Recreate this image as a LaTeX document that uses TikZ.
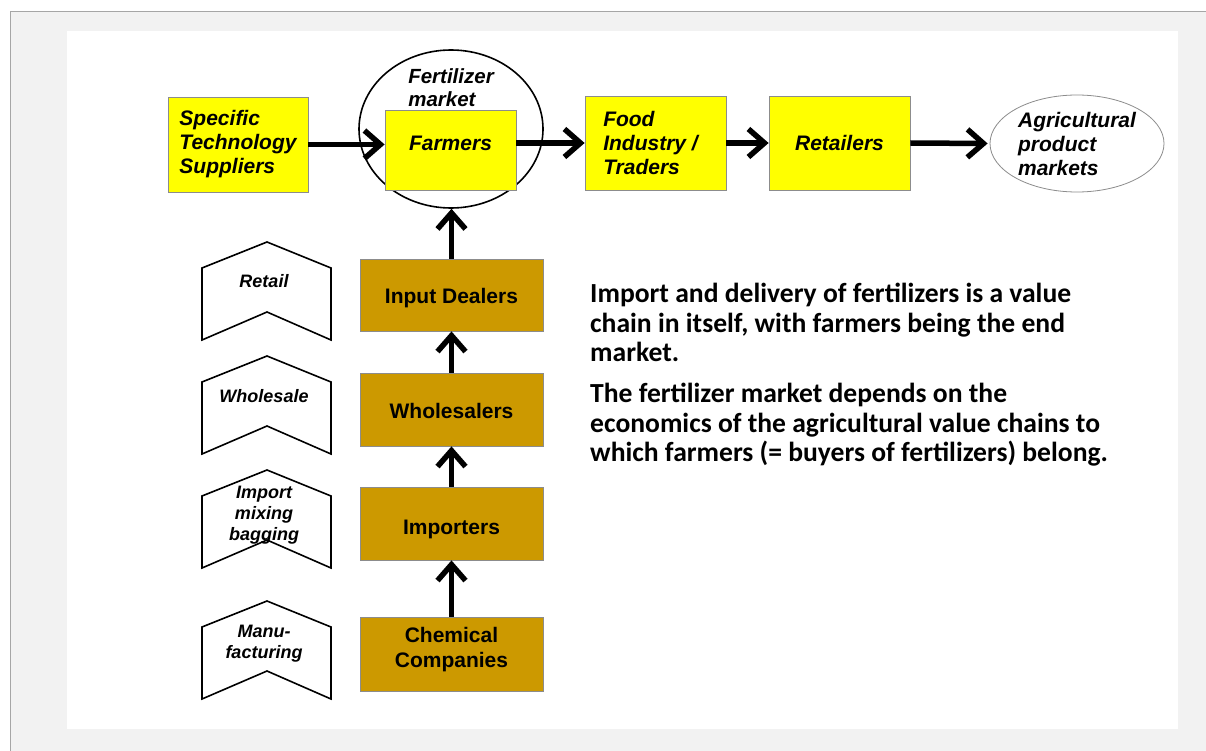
\documentclass[tikz,border=0pt]{standalone}
\usepackage{fontspec}
\setmainfont{Liberation Sans}
\newfontfamily\carl{Carlito}
\usetikzlibrary{shapes.geometric,arrows.meta}
\definecolor{bggray}{HTML}{F2F2F2}
\definecolor{frameline}{HTML}{A6A6A6}
\definecolor{yellowfill}{HTML}{FFFF00}
\definecolor{brownfill}{HTML}{CC9900}
\definecolor{boxedge}{HTML}{8C8C8C}
\begin{document}
\begin{tikzpicture}[x=1pt,y=-1pt,
  ybox/.style={draw=boxedge, line width=0.8pt, fill=yellowfill, inner sep=0pt,
    font=\fontsize{21}{24}\selectfont\bfseries\itshape, align=left},
  ytext/.style={font=\fontsize{21}{24}\selectfont\bfseries\itshape, align=left},
  bbox/.style={draw=boxedge, line width=0.8pt, fill=brownfill, inner sep=0pt,
    minimum width=183pt, minimum height=73pt},
  btext/.style={font=\fontsize{21}{25}\selectfont\bfseries, align=center},
  chev/.style={draw=black, line width=1.6pt, fill=white, line join=miter},
  chevtext/.style={font=\fontsize{18}{21}\selectfont\bfseries\itshape, align=center, inner sep=0pt},
  arr/.style={line width=5.5pt, -{Straight Barb[length=16pt,width=28pt]}}
]
\useasboundingbox (0,0) rectangle (1206,751);
\fill[white] (0,0) rectangle (1206,751);
\fill[bggray] (10,11) rectangle (1206,751);
\draw[frameline, line width=1.2pt] (10.5,751) -- (10.5,11.5) -- (1206,11.5);
\fill[white] (67,31) rectangle (1178,729);

% fertilizer market circle
\node[draw=black, line width=1.6pt, ellipse, minimum width=184pt, minimum height=158pt, inner sep=0pt] (fmark) at (451,129) {};
\node[font=\fontsize{20.5}{23}\selectfont\bfseries\itshape, align=left, inner sep=0pt] (fmtext) at (451,88) {Fertilizer\\market};

% top chain
\node[ybox, minimum width=140pt, minimum height=95pt] (spec) at (238,144.5) {Specific\\Technology\\Suppliers};
\node[ybox, minimum width=131pt, minimum height=80pt,
  label={[ytext, yshift=7pt]center:Farmers}] (farm) at (450.5,150) {};
\node[ybox, minimum width=141pt, minimum height=94pt,
  label={[ytext, xshift=-5pt]center:Food\\Industry /\\Traders}] (food) at (655.5,143) {};
\node[ybox, minimum width=141pt, minimum height=94pt] (ret) at (839.5,143) {Retailers};
\node[draw=boxedge, line width=0.8pt, ellipse, minimum width=174pt, minimum height=97pt, inner sep=0pt,
  font=\fontsize{21}{24}\selectfont\bfseries\itshape, align=left] (agri) at (1077,143.5) {Agricultural\\product\\markets};

\draw[arr] (spec.east) -- (spec.east -| farm.west);
\draw[arr] (farm.east |- food.west) -- (food.west);
\draw[arr] (food.east) -- (ret.west);
\draw[arr] (ret.east) -- ([xshift=-2pt]agri.west);

% brown chain
\node[bbox, minimum height=72pt, label={[btext, yshift=-3pt]center:Input Dealers}] (input) at (451.5,295) {};
\node[bbox, label={[btext, yshift=-1.5pt]center:Wholesalers}] (whole) at (451.5,409.5) {};
\node[bbox, label={[btext, yshift=-6pt]center:Importers}] (imp) at (451.5,523.5) {};
\node[bbox, minimum height=74pt,
  label={[btext, yshift=4pt]center:Chemical\\Companies}] (chem) at (451.5,654) {};

\draw[arr] (input.north) -- (input.north |- fmark.south);
\draw[arr] (whole.north) -- (input.south);
\draw[arr] (imp.north) -- (whole.south);
\draw[arr] (chem.north) -- (imp.south);

% chevrons
\foreach \p in {242,356,470,601}
  \draw[chev] (202,{\p+26}) -- (267,\p) -- (331,{\p+26}) -- (331,{\p+98}) -- (267,{\p+70}) -- (202,{\p+98}) -- cycle;
\node[chevtext] (cretail) at (264,281) {Retail};
\node[chevtext] (cwhole) at (264,396) {Wholesale};
\node[chevtext] (cimport) at (264,515) {Import\\mixing\\bagging};
\node[chevtext] (cmanu) at (264,644) {Manu-\\facturing};

% paragraph
\node[anchor=north west, inner sep=0pt, align=left,
  font=\carl\bfseries\fontsize{27.6}{29.5}\selectfont] (para) at (590,283)
  {Import and delivery of fertilizers is a value\\
   chain in itself, with farmers being the end\\
   market.\\[11.5pt]
   The fertilizer market depends on the\\
   economics of the agricultural value chains to\\
   which farmers (= buyers of fertilizers) belong.};
\end{tikzpicture}
\end{document}
